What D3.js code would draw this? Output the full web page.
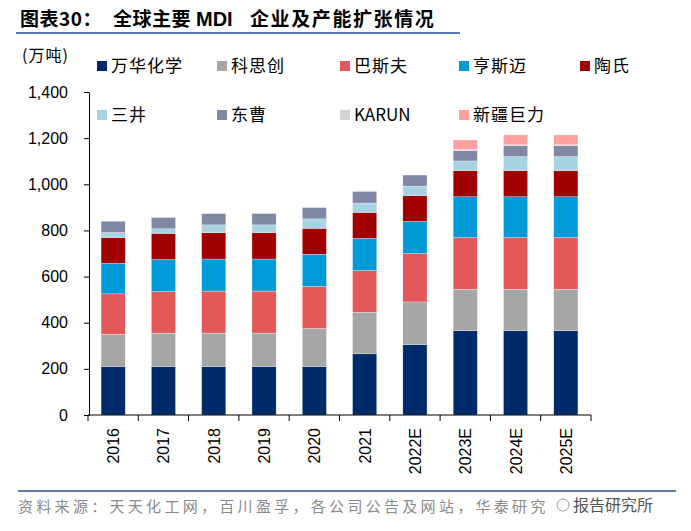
<!DOCTYPE html>
<html><head><meta charset="utf-8">
<script src="https://cdn.jsdelivr.net/npm/d3@7"></script>
<style>
body{margin:0;background:#fff;}
svg text{font-family:"Liberation Sans",Arial,sans-serif;}
.cjk{font-family:"Noto Sans CJK SC","Liberation Sans",sans-serif;}
</style></head>
<body><svg id="c" width="691" height="531"></svg>
<script>
const categories = ["2016","2017","2018","2019","2020","2021","2022E","2023E","2024E","2025E"];
const seriesNames = ["万华化学","科思创","巴斯夫","亨斯迈","陶氏","三井","东曹","KARUN","新疆巨力"];
const wanhua   = [210,210,210,210,210,265,305,365,365,365];
const covestro = [140,145,145,145,165,180,185,180,180,180];
const basf     = [175,180,182,182,182,181,210,224,224,224];
const huntsman = [133,139,139,139,140,140,139,177,177,177];
const dow      = [111,113,114,114,112,112,111,113,113,113];
const mitsui   = [22,20,34,34,41,41,42,42,61,61];
const tosoh    = [49,49,49,49,49,50,48,45,47,47];
const karun    = [0,0,0,0,0,0,0,4,4,4];
const juli     = [0,0,0,0,0,0,0,42,43,43];
const yTicks   = [0,200,400,600,800,1000,1200,1400];
const colors = ["#002b6b","#a6a6a6","#e35959","#009bd6","#a00000","#a8d3e2","#8088a4","#d3d3d3","#ffa0a0"];

const allSeries = [wanhua,covestro,basf,huntsman,dow,mitsui,tosoh,karun,juli];
const table = categories.map((c,i)=>{const o={cat:c}; seriesNames.forEach((s,j)=>o[s]=allSeries[j][i]); return o;});
const stack = d3.stack().keys(seriesNames)(table);

const svg = d3.select("#c");
const x = d3.scaleBand().domain(categories).range([88,591]).paddingInner(0.52).paddingOuter(0.26);
const y = d3.scaleLinear().domain([0,1400]).range([415,92]);

// title
const t = svg.append("text").attr("class","cjk").attr("y",26).attr("font-size",19).attr("font-weight","bold").attr("fill","#000");
t.append("tspan").attr("x",20).attr("letter-spacing",0.5).text("图表30：");
t.append("tspan").attr("x",113).attr("letter-spacing",0.5).text("全球主要");
t.append("tspan").attr("x",196).attr("font-family","Liberation Sans, Arial, sans-serif").attr("font-size",20).text("MDI");
t.append("tspan").attr("x",250).attr("letter-spacing",1.6).text("企业及产能扩张情况");
svg.append("line").attr("x1",16).attr("x2",460).attr("y1",33).attr("y2",33).attr("stroke","#5b7bb0").attr("stroke-width",2);

// unit
svg.append("text").attr("class","cjk").attr("x",22).attr("y",61).attr("font-size",16).attr("letter-spacing",1).attr("fill","#000").text("(万吨)");

// bars
const g = svg.append("g");
stack.forEach((s,k)=>{
  g.selectAll(null).data(s).join("rect")
    .attr("x",d=>x(d.data.cat)).attr("width",x.bandwidth())
    .attr("y",d=>y(d[1])).attr("height",d=>Math.max(0,y(d[0])-y(d[1])))
    .attr("fill",colors[k]).attr("stroke","#fff").attr("stroke-width",0.4).attr("stroke-opacity",0.7);
});

// y axis
const ya = svg.append("g").attr("transform","translate(89,0)")
  .call(d3.axisLeft(y).tickValues(yTicks).tickFormat(d3.format(",")).tickSize(5).tickSizeOuter(0));
ya.select(".domain").attr("stroke","#000");
ya.selectAll("text").attr("font-size",16).attr("fill","#000").attr("x",-21).attr("font-family","Liberation Sans, Arial, sans-serif");

// x axis
const xa = svg.append("g").attr("transform","translate(0,415)");
xa.append("line").attr("x1",88).attr("x2",591).attr("stroke","#000");
const bounds = categories.map(c=>x(c)-x.step()*x.paddingInner()/2).concat([591]);
xa.selectAll("line.t").data(bounds).join("line").attr("class","t")
  .attr("x1",d=>d).attr("x2",d=>d).attr("y1",0).attr("y2",6).attr("stroke","#000");
xa.selectAll("text").data(categories).join("text")
  .attr("transform",d=>`translate(${x(d)+x.bandwidth()/2+6},13) rotate(-90)`)
  .attr("text-anchor","end").attr("font-size",16).attr("fill","#000").text(d=>d);

// legend
const legX = [97,217,340,459,580];
seriesNames.forEach((s,i)=>{
  const row = i<5?0:1, col = i<5?i:i-5;
  const lx = legX[col], ly = row===0?66:115;
  svg.append("rect").attr("x",lx).attr("y",ly-5).attr("width",10).attr("height",10).attr("fill",colors[i]);
  svg.append("text").attr("class","cjk").attr("x",lx+14).attr("y",ly+6).attr("font-size",17)
    .attr("letter-spacing", s==="KARUN"?0:1).attr("fill","#000").text(s);
});

// footer
svg.append("line").attr("x1",18).attr("x2",676).attr("y1",491).attr("y2",491).attr("stroke","#5b7bb0").attr("stroke-width",2);
svg.append("text").attr("class","cjk").attr("x",18).attr("y",512).attr("font-size",15).attr("letter-spacing",3.3).attr("fill","#8a8a8a")
  .text("资料来源：天天化工网，百川盈孚，各公司公告及网站，华泰研究");
svg.append("circle").attr("cx",563).attr("cy",505).attr("r",6).attr("fill","#fff").attr("stroke","#999");
svg.append("text").attr("class","cjk").attr("x",573).attr("y",511).attr("font-size",16).attr("fill","#555").text("报告研究所");
</script></body></html>
